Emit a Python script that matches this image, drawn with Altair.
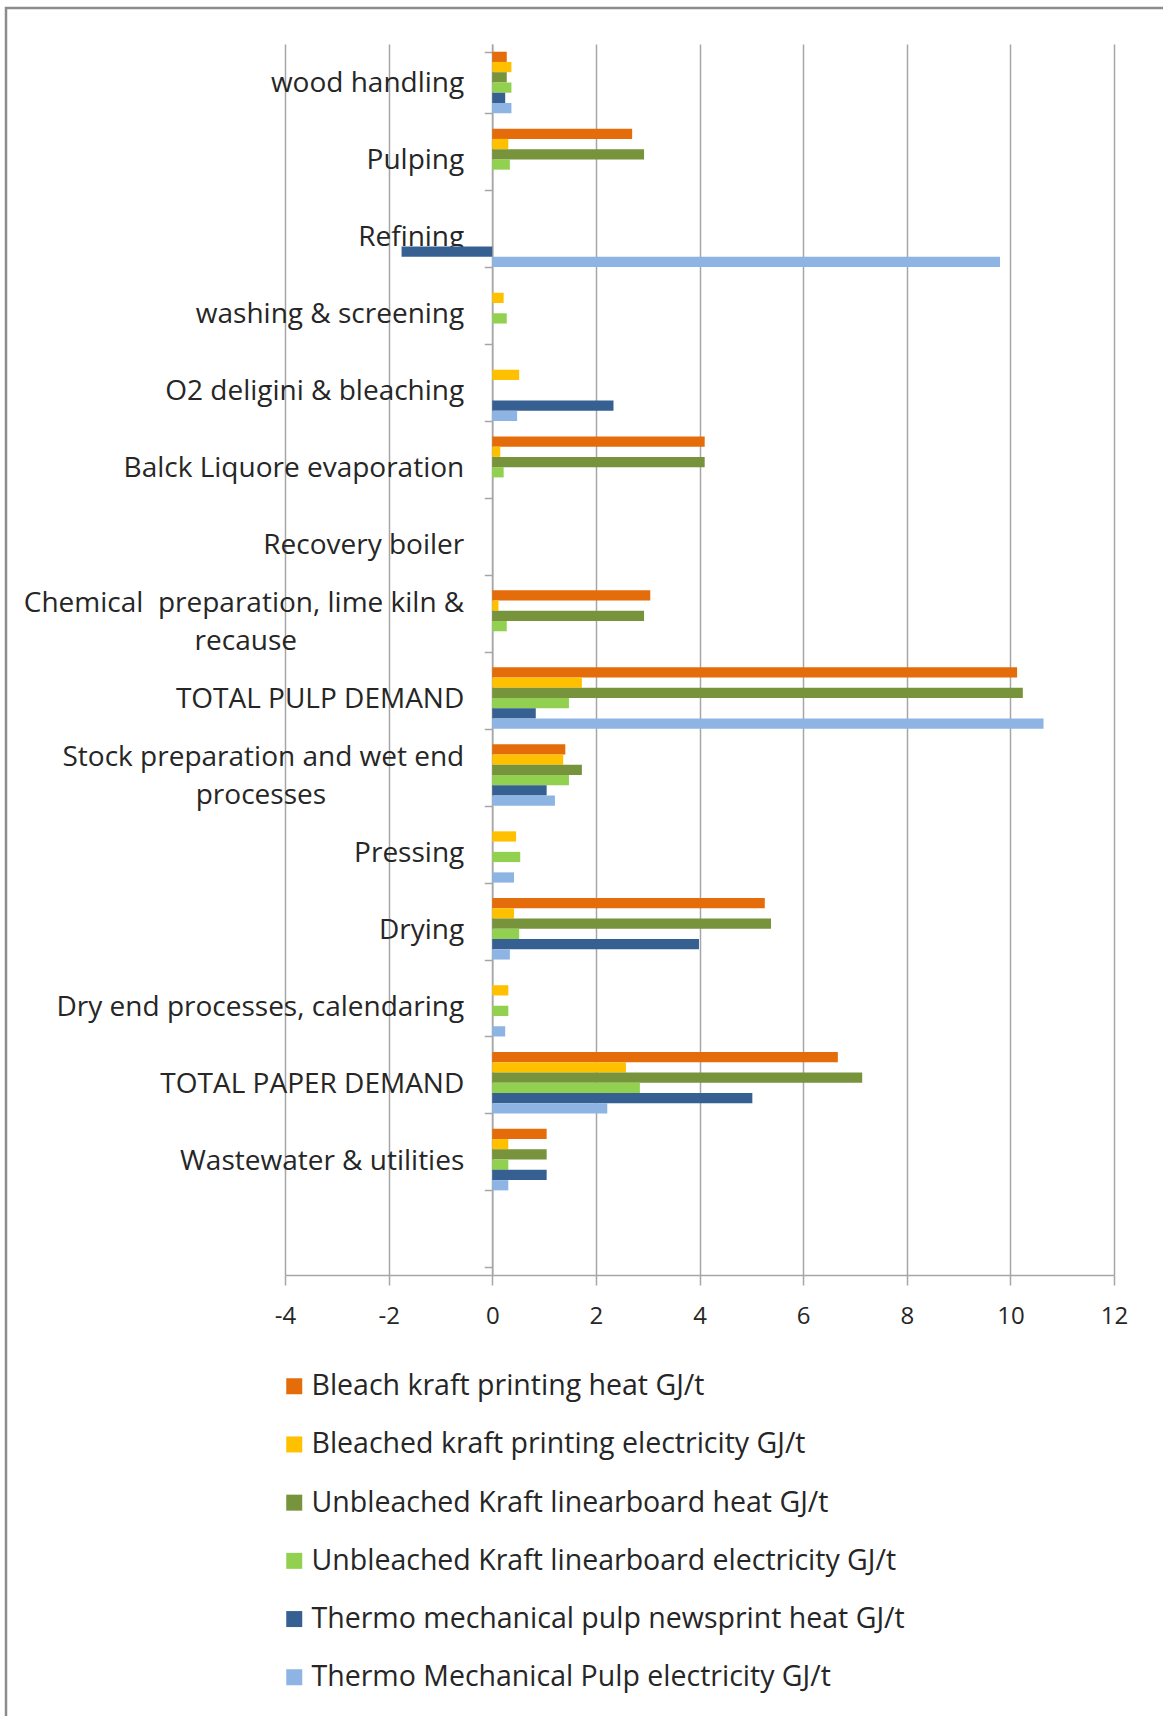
import altair as alt
import pandas as pd

NBSP = "\u00a0"
WORD_JOINER = "\u2060"  # keeps the no-break spaces from being trimmed at line end


def two_lines(first, second, indent):
    """Category label on two lines ("|" = break); the second line is indented
    with no-break spaces so it sits centred under the first one."""
    return first + "|" + second + NBSP * indent + WORD_JOINER


# Process steps, top to bottom (the last, blank step leaves an empty band
# under the data as in the source sheet)
categories = [
    "wood handling",
    "Pulping",
    "Refining",
    "washing & screening",
    "O2 deligini & bleaching",
    "Balck Liquore evaporation",
    "Recovery boiler",
    two_lines("Chemical" + NBSP + " preparation, lime kiln &", "recause", 23),
    "TOTAL PULP DEMAND",
    two_lines("Stock preparation and wet end", "processes", 19),
    "Pressing",
    "Drying",
    "Dry end processes, calendaring",
    "TOTAL PAPER DEMAND",
    "Wastewater & utilities",
    " ",
]

series = [
    "Bleach kraft printing heat GJ/t",
    "Bleached kraft printing electricity GJ/t",
    "Unbleached Kraft linearboard heat GJ/t",
    "Unbleached Kraft linearboard electricity GJ/t",
    "Thermo mechanical pulp newsprint heat GJ/t",
    "Thermo Mechanical Pulp electricity GJ/t",
]

colors = ["#E46C0A", "#FFC000", "#77933C", "#92D050", "#376092", "#8DB4E2"]

# Energy demand per process step, GJ/t (None = no value)
bk_heat = [0.28, 2.70, None, None, None, 4.10, None, 3.05, 10.13, 1.41, None, 5.26, None, 6.67, 1.05]
bk_elec = [0.37, 0.31, None, 0.22, 0.52, 0.155, None, 0.12, 1.73, 1.37, 0.46, 0.42, 0.31, 2.58, 0.31]
ub_heat = [0.28, 2.93, None, None, None, 4.10, None, 2.93, 10.24, 1.73, None, 5.38, None, 7.14, 1.05]
ub_elec = [0.37, 0.34, None, 0.28, None, 0.22, None, 0.28, 1.48, 1.48, 0.54, 0.52, 0.31, 2.85, 0.31]
tmp_heat = [0.25, None, -1.75, None, 2.34, None, None, None, 0.84, 1.05, None, 3.99, None, 5.02, 1.05]
tmp_elec = [0.37, None, 9.80, None, 0.48, None, None, None, 10.64, 1.21, 0.42, 0.34, 0.25, 2.22, 0.31]

x_ticks = [-4, -2, 0, 2, 4, 6, 8, 10, 12]

rows = []
for name, vals in zip(series, [bk_heat, bk_elec, ub_heat, ub_elec, tmp_heat, tmp_elec]):
    for cat, v in zip(categories, vals):
        if v is not None:
            rows.append({"process": cat, "series": name, "value": v})
df = pd.DataFrame(rows)

labels_one = pd.DataFrame({"process": [c for c in categories if "|" not in c]})
labels_two = pd.DataFrame({"process": [c for c in categories if "|" in c]})

X_MIN, X_MAX = x_ticks[0], x_ticks[-1]
W, H = 829, 1231
FONT = "Open Sans"
TEXT = "#262626"
GRID = "#a6a6a6"
LABEL_SIZE = 28
LINE_H = 38

# the category axis sits on the zero line, not on the left edge
zero_offset = -(0 - X_MIN) * W / (X_MAX - X_MIN)

y_enc = alt.Y(
    "process:N",
    sort=categories,
    scale=alt.Scale(domain=categories, paddingInner=0.2, paddingOuter=0.1),
    axis=alt.Axis(
        title=None,
        labels=False,
        offset=zero_offset,
        tickBand="extent",
        domainColor=GRID,
        domainWidth=1.5,
        tickColor=GRID,
        tickWidth=1.5,
        tickSize=8,
    ),
)

bars = alt.Chart(df).mark_bar().encode(
    x=alt.X(
        "value:Q",
        scale=alt.Scale(domain=[X_MIN, X_MAX], nice=False, zero=False),
        axis=alt.Axis(
            title=None,
            values=x_ticks,
            labelExpr="'' + datum.value",
            labelFlush=False,
            grid=True,
            gridColor=GRID,
            gridWidth=1.5,
            domainColor=GRID,
            domainWidth=1.5,
            tickColor=GRID,
            tickWidth=1.5,
            tickSize=10,
            labelFont=FONT,
            labelFontSize=24,
            labelColor=TEXT,
            labelPadding=19,
        ),
    ),
    y=y_enc,
    yOffset=alt.YOffset(
        "series:N",
        sort=series,
        scale=alt.Scale(paddingInner=0, paddingOuter=0),
    ),
    color=alt.Color(
        "series:N",
        sort=series,
        scale=alt.Scale(domain=series, range=colors),
        legend=alt.Legend(
            title=None,
            orient="none",
            legendX=-5,
            legendY=1328,
            direction="vertical",
            symbolType="square",
            symbolSize=256,
            symbolStrokeWidth=0,
            symbolOffset=0,
            labelFont=FONT,
            labelFontSize=28.5,
            labelColor=TEXT,
            labelLimit=800,
            labelOffset=3,
            rowPadding=29.2,
        ),
    ),
)

# category names, right-aligned just left of the zero line
label_style = dict(
    align="right",
    baseline="middle",
    dx=-28,
    font=FONT,
    fontSize=LABEL_SIZE,
    color=TEXT,
)
names_one = alt.Chart(labels_one).mark_text(dy=2, **label_style).encode(
    y=alt.Y("process:N", sort=categories), x=alt.datum(0), text="process:N"
)
# two-line names: lifted half a line so the pair is centred on the band
names_two = alt.Chart(labels_two).mark_text(
    lineBreak="|", lineHeight=LINE_H, dy=2 - LINE_H / 2, **label_style
).encode(
    y=alt.Y("process:N", sort=categories), x=alt.datum(0), text="process:N"
)

# outer chart-area frame
frame = alt.Chart(pd.DataFrame({"f": [0]})).mark_rect(
    filled=False, stroke="#8c8c8c", strokeWidth=2.5
).encode(
    x=alt.value(-279), x2=alt.value(950), y=alt.value(-36), y2=alt.value(1800)
)

chart = alt.layer(frame, names_one, names_two, bars).properties(
    width=W,
    height=H,
    autosize="none",
    padding={"left": 285, "top": 44, "right": 1163 - 285 - W, "bottom": 1716 - 44 - H},
    background="white",
).configure_view(strokeWidth=0)

chart.save("out.html", embed_options={"renderer": "svg", "actions": False})
